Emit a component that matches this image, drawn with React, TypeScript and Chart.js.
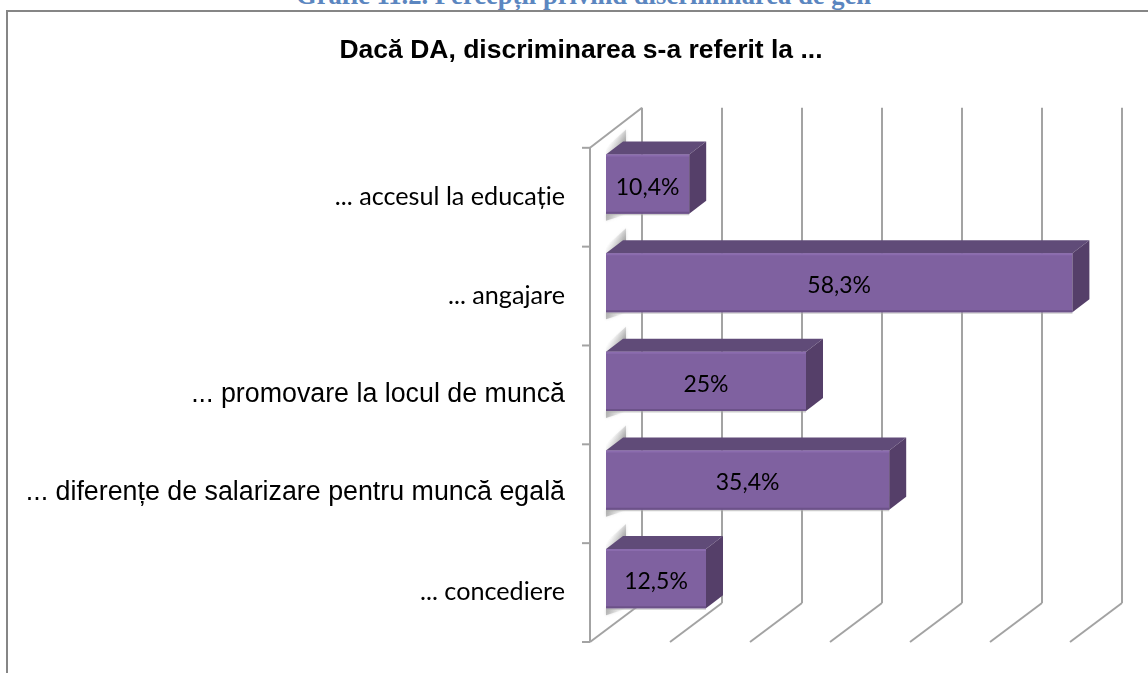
import React, { useEffect, useRef } from "react";
import { Chart, registerables } from "chart.js";

Chart.register(...registerables);

const categories = [
  "... accesul la educație",
  "... angajare",
  "... promovare la locul de muncă",
  "... diferențe de salarizare pentru muncă egală",
  "... concediere",
];
const values = [10.4, 58.3, 25, 35.4, 12.5];
const labelFamilies = ["Lato", "Lato", "Liberation Sans", "Liberation Sans", "Lato"];
const labelSizes = [25.2, 25.2, 26.8, 26.8, 25.2];
const heading = "Grafic 11.2. Percepții privind discriminarea de gen";
const chartTitle = "Dacă DA, discriminarea s-a referit la ...";

const DX = 17;
const DY = 13;
const GRID = "#a3a3a3";

function poly(ctx: CanvasRenderingContext2D, pts: number[][], fill: any) {
  ctx.beginPath();
  pts.forEach((p, i) => (i ? ctx.lineTo(p[0], p[1]) : ctx.moveTo(p[0], p[1])));
  ctx.closePath();
  ctx.fillStyle = fill;
  ctx.fill();
}

const wallsPlugin = {
  id: "walls",
  beforeDatasetsDraw(chart: any) {
    const { ctx, chartArea, scales } = chart;
    const { top, bottom, left } = chartArea;
    const frontTop = top + 13;
    const frontBottom = bottom + 14;
    const backTop = top - 27;
    const backBottom = bottom - 25;
    const frontOff = -16;
    const backOff = 36;
    ctx.save();
    ctx.strokeStyle = GRID;
    ctx.lineWidth = 2;
    const line = (a: number, b: number, c: number, d: number) => {
      ctx.beginPath();
      ctx.moveTo(a, b);
      ctx.lineTo(c, d);
      ctx.stroke();
    };
    scales.x.ticks.forEach((t: any) => {
      const x = scales.x.getPixelForValue(t.value);
      line(x + frontOff, frontBottom, x + backOff, backBottom);
      line(x + backOff, backBottom, x + backOff, backTop);
    });
    const wallX = left + frontOff;
    line(wallX, frontTop, wallX, frontBottom);
    line(wallX, frontTop, wallX - frontOff + backOff, backTop);
    const n = categories.length;
    for (let i = 0; i <= n; i++) {
      const y = frontTop + ((frontBottom - frontTop) * i) / n;
      line(wallX - 8, y, wallX, y);
    }
    ctx.restore();
  },
};

const barFacesPlugin = {
  id: "barFaces",
  beforeDatasetsDraw(chart: any) {
    const { ctx } = chart;
    ctx.save();
    chart.getDatasetMeta(0).data.forEach((el: any) => {
      const { x, y, base, height } = el.getProps(["x", "y", "base", "height"], true);
      const y0 = y - height / 2;
      const y1 = y + height / 2;
      const g1 = ctx.createLinearGradient(base + 22, y0 - 12, base + 8, y0 - 20);
      g1.addColorStop(0, "rgba(120,120,120,0.8)");
      g1.addColorStop(1, "rgba(200,200,200,0)");
      ctx.shadowColor = "rgba(150,150,150,0.5)";
      ctx.shadowBlur = 3;
      poly(ctx, [[base, y0], [base, y0 - 7], [base + 20, y0 - 25], [base + 20, y0 - 8]], g1);
      const g2 = ctx.createLinearGradient(base, y1, base + 20, y1 + 4);
      g2.addColorStop(0, "rgba(150,150,150,0.7)");
      g2.addColorStop(1, "rgba(210,210,210,0)");
      poly(ctx, [[base, y1], [base + 22, y1], [base, y1 + 7]], g2);
      ctx.shadowBlur = 0;
      ctx.shadowColor = "transparent";
      poly(ctx, [[base, y1], [x, y1], [x, y1 + 1.5], [base, y1 + 1.5]], "rgba(170,170,170,0.6)");
    });
    ctx.restore();
  },
  afterDatasetsDraw(chart: any) {
    const { ctx } = chart;
    ctx.save();
    chart.getDatasetMeta(0).data.forEach((el: any, i: number) => {
      const { x, y, base, height } = el.getProps(["x", "y", "base", "height"], true);
      const y0 = y - height / 2;
      const y1 = y + height / 2;
      poly(ctx, [[base, y0], [base + DX, y0 - DY], [x + DX, y0 - DY], [x, y0]], "#604b78");
      poly(ctx, [[x, y0], [x + DX, y0 - DY], [x + DX, y1 - DY], [x, y1]], "#553f69");
      poly(ctx, [[base, y0], [x, y0], [x, y0 + 2], [base, y0 + 2]], "#8b6cae");
      poly(ctx, [[base, y1 - 2], [x, y1 - 2], [x, y1], [base, y1]], "#6c5289");
      ctx.fillStyle = "#000000";
      ctx.font = "23px Lato";
      ctx.textAlign = "center";
      ctx.textBaseline = "middle";
      ctx.fillText(String(values[i]).replace(".", ",") + "%", (base + x) / 2, y + 3);
    });
    ctx.restore();
  },
};

export default function App() {
  const ref = useRef<HTMLCanvasElement>(null);
  useEffect(() => {
    const chart = new Chart(ref.current as HTMLCanvasElement, {
      type: "bar",
      data: {
        labels: categories,
        datasets: [
          {
            data: values,
            backgroundColor: "#7f61a0",
            borderWidth: 0,
            categoryPercentage: 1,
            barPercentage: 0.6,
          },
        ],
      },
      options: {
        indexAxis: "y",
        animation: false,
        responsive: false,
        layout: { padding: { left: 0, right: 0, top: 0, bottom: 45 } },
        plugins: {
          legend: { display: false },
          tooltip: { enabled: false },
          title: {
            display: true,
            text: chartTitle,
            color: "#000000",
            font: { family: "Liberation Sans", size: 26.5, weight: "bold" },
            padding: { top: 35, bottom: 68 },
          },
        },
        scales: {
          x: {
            min: 0,
            max: 67.75,
            ticks: { display: false, stepSize: 10 },
            grid: { display: false, drawTicks: false },
            border: { display: false },
            afterBuildTicks: (s: any) => {
              s.ticks = s.ticks.filter((t: any) => t.value % 10 === 0);
            },
          },
          y: {
            grid: { display: false, drawTicks: false },
            border: { display: false },
            ticks: {
              autoSkip: false,
              padding: 41,
              labelOffset: 13,
              color: "#000000",
              font: (c: any) => ({ family: labelFamilies[c.index], size: labelSizes[c.index] }),
            },
            afterFit: (s: any) => {
              s.width = 592;
              s.paddingTop = 0;
              s.paddingBottom = 0;
            },
          },
        },
      },
      plugins: [wallsPlugin, barFacesPlugin],
    } as any);
    return () => chart.destroy();
  }, []);
  return (
    <div style={{ position: "fixed", inset: 0, overflow: "hidden", background: "#fff" }}>
      <div
        style={{
          position: "absolute",
          left: 296,
          width: 575,
          top: -18,
          whiteSpace: "nowrap",
          textAlign: "center",
          fontFamily: "'Liberation Serif'",
          fontWeight: "bold",
          fontSize: 26.6,
          lineHeight: "26px",
          color: "#5b86c0",
        }}
      >
        {heading}
      </div>
      <div
        style={{
          position: "absolute",
          left: 6,
          top: 10,
          width: 1200,
          height: 800,
          borderLeft: "2px solid #868686",
          borderTop: "2px solid #868686",
        }}
      />
      <canvas
        ref={ref}
        width={1134}
        height={673}
        style={{ position: "absolute", left: 14, top: 0, width: 1134, height: 673 }}
      />
    </div>
  );
}
